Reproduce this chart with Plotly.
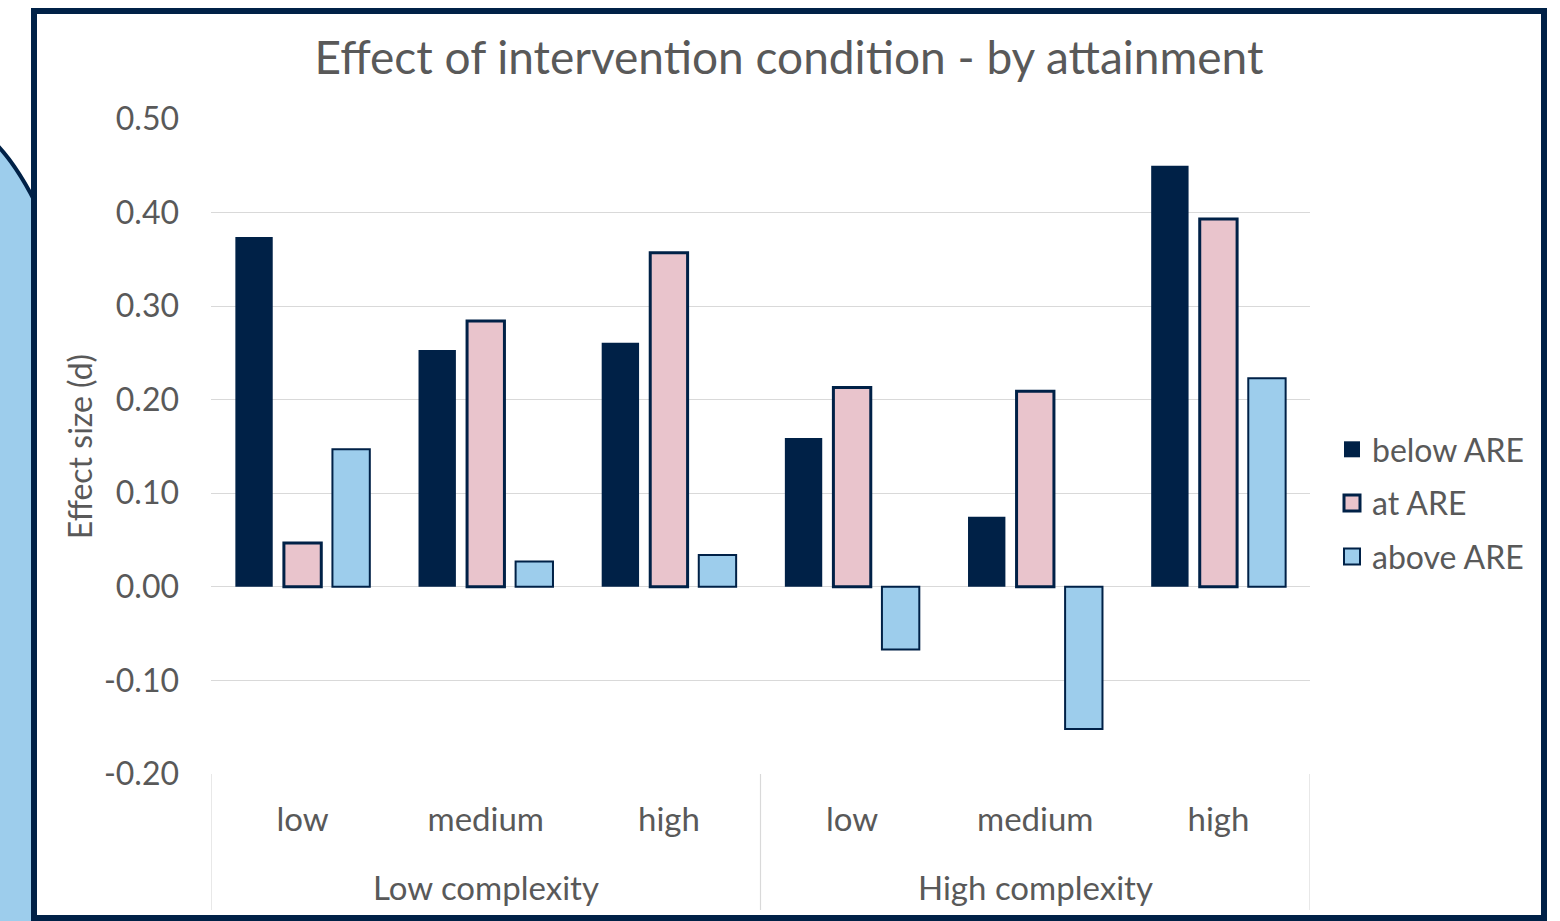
import plotly.graph_objects as go

group_names = ["Low complexity", "High complexity"]
levels = ["low", "medium", "high", "low", "medium", "high"]

below_are = [0.374, 0.253, 0.261, 0.159, 0.075, 0.450]
at_are = [0.047, 0.284, 0.357, 0.213, 0.209, 0.393]
above_are = [0.147, 0.027, 0.034, -0.067, -0.152, 0.223]

y_ticks = [-0.2, -0.1, 0.0, 0.1, 0.2, 0.3, 0.4, 0.5]
y_tick_labels = ["-0.20", "-0.10", "0.00", "0.10", "0.20", "0.30", "0.40", "0.50"]

series_names = ["below ARE", "at ARE", "above ARE"]
fills = ["#002147", "#E9C4CC", "#9DCDEC"]
edge = "#002147"
edge_w = [0, 3, 2]

W, H = 1560, 921
L, R, T, B = 211, 250, 119, 147
pw, ph = W - L - R, H - T - B

def px(x):
    return (x - L) / pw

def py(y):
    return (H - B - y) / ph

FONT = "Lato, 'Open Sans', sans-serif"
GREY = "#595959"

xpos = list(range(len(levels)))

fig = go.Figure()
for name, vals, fc, lw in zip(series_names, [below_are, at_are, above_are], fills, edge_w):
    fig.add_trace(go.Bar(
        name=name, x=xpos, y=vals,
        marker=dict(color=fc, line=dict(color=edge, width=lw)),
        showlegend=False,
    ))
# legend entries with larger square swatches
for name, fc, lw in zip(series_names, fills, edge_w):
    fig.add_trace(go.Scatter(
        name=name, x=[None], y=[None], mode="markers",
        marker=dict(symbol="square", size=18, color=fc,
                    line=dict(color=edge, width=lw)),
        legendgroup=name,
    ))

shapes = []
# light blue shape on the left, behind the frame
shapes.append(dict(
    type="path", xref="paper", yref="paper", layer="below",
    path=(f"M {px(-5)},{py(143)} Q {px(18)},{py(166)} {px(40)},{py(212)} "
          f"L {px(40)},{py(925)} L {px(-5)},{py(925)} Z"),
    fillcolor="#9DCDEC", line=dict(color=edge, width=4),
))
# outer frame
shapes.append(dict(
    type="rect", xref="paper", yref="paper", layer="below",
    x0=px(34), x1=px(1544), y0=py(918), y1=py(11),
    fillcolor="white", line=dict(color=edge, width=6),
))
# category dividers (below the plot area)
n_per_group = len(levels) // len(group_names)
for k in range(len(group_names) + 1):
    xv = k * n_per_group - 0.5
    shapes.append(dict(
        type="line", xref="x", yref="paper", x0=xv, x1=xv,
        y0=0, y1=py(910), line=dict(color="#D9D9D9", width=1.2),
    ))

annotations = []
for g, name in enumerate(group_names):
    annotations.append(dict(
        text=name, xref="x", yref="paper",
        x=g * n_per_group + (n_per_group - 1) / 2, y=py(887),
        xanchor="center", yanchor="middle", showarrow=False,
        font=dict(size=33, color=GREY, family=FONT),
    ))

fig.update_layout(
    width=W, height=H,
    margin=dict(l=L, r=R, t=T, b=B, autoexpand=False),
    paper_bgcolor="white", plot_bgcolor="rgba(0,0,0,0)",
    font=dict(family=FONT, color=GREY, size=32),
    barmode="group", bargap=0.205, bargroupgap=0.23,
    title=dict(text="Effect of intervention condition - by attainment",
               xref="container", x=789 / W, xanchor="center",
               yref="container", y=1 - 58 / H, yanchor="middle",
               font=dict(size=46, color=GREY, family=FONT)),
    legend=dict(x=px(1332), xanchor="left", y=py(503), yanchor="middle",
                font=dict(size=32, color=GREY), tracegroupgap=9,
                bgcolor="rgba(0,0,0,0)", itemwidth=30),
    shapes=shapes,
    annotations=annotations,
    showlegend=True,
)
fig.update_yaxes(
    range=[-0.2, 0.5], tickvals=y_ticks, ticktext=y_tick_labels,
    showgrid=True, gridcolor="#D9D9D9", gridwidth=1.2,
    zeroline=True, zerolinecolor="#D9D9D9", zerolinewidth=1.2,
    showline=False, ticks="", ticklabelstandoff=31,
    tickfont=dict(size=32, color=GREY),
    title=dict(text="Effect size (d)", font=dict(size=32, color=GREY), standoff=1),
)
fig.update_xaxes(
    range=[-0.5, len(levels) - 0.5], tickvals=xpos, ticktext=levels,
    showgrid=False, zeroline=False, showline=False, ticks="",
    ticklabelstandoff=23,
    tickfont=dict(size=33, color=GREY),
)

fig.write_html("out.html", config={"displayModeBar": False},
               post_script="document.body.style.margin='0';")
